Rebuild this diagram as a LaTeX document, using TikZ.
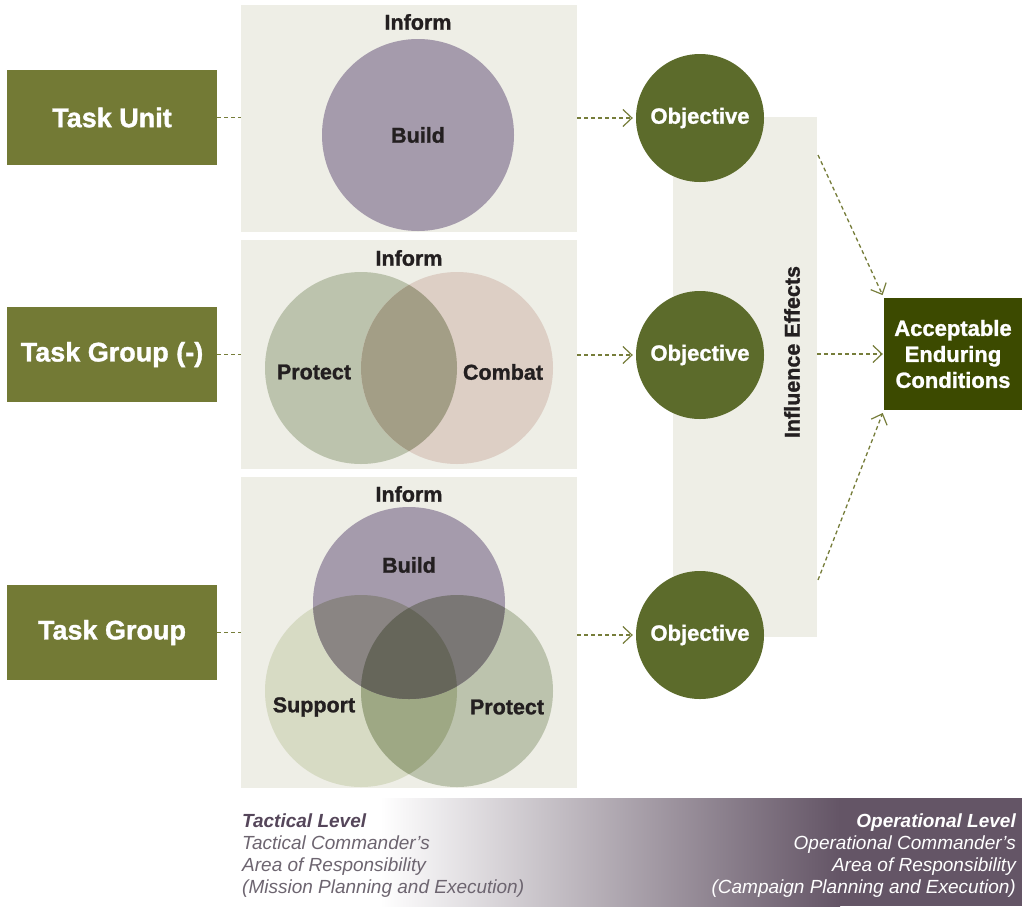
\documentclass[tikz,border=0pt]{standalone}
\usepackage{fontspec}
\setmainfont{Liberation Sans}
\newfontfamily\heavyfont[FakeBold=1.2]{Liberation Sans Bold}
\usetikzlibrary{arrows.meta}
\definecolor{taskolive}{HTML}{737A35}
\definecolor{panelbg}{HTML}{EEEEE6}
\definecolor{objgreen}{HTML}{5C6B2B}
\definecolor{aecgreen}{HTML}{3C4A00}
\definecolor{arrowolive}{HTML}{767D3A}
\definecolor{cpurple}{HTML}{A59BAC}
\definecolor{cgreen}{HTML}{BCC3AD}
\definecolor{clight}{HTML}{D7DBC4}
\definecolor{cpink}{HTML}{DDCFC5}
\definecolor{ovPG}{HTML}{A39E86}
\definecolor{ovPuL}{HTML}{8A8583}
\definecolor{ovPuG}{HTML}{7A7775}
\definecolor{ovLG}{HTML}{9EA884}
\definecolor{ovAll}{HTML}{66665A}
\definecolor{barend}{HTML}{645566}
\definecolor{labeldark}{HTML}{231F20}
\definecolor{tacticaltitle}{HTML}{55465A}
\definecolor{tacticaltext}{HTML}{6D6570}
\begin{document}
\begin{tikzpicture}[x=1pt,y=-1pt,
  taskbox/.style={fill=taskolive, text=white, minimum width=210pt, minimum height=95pt, inner sep=0pt, font=\fontsize{27}{30}\heavyfont},
  panel/.style={fill=panelbg, draw=none, inner sep=0pt, anchor=north west, minimum width=336pt},
  objective/.style={circle, fill=objgreen, minimum size=128pt, inner sep=0pt, text=white, font=\fontsize{22}{24}\heavyfont},
  vlabel/.style={text=labeldark, font=\fontsize{21.5}{24}\heavyfont, inner sep=0pt},
  flow/.style={arrowolive, line width=1.3pt, dash pattern=on 4pt off 3pt},
  flowarrow/.style={flow, -{Straight Barb[length=9pt,width=17pt,line width=1.2pt]}},
  leveltext/.style={inner sep=0pt, font=\fontsize{19}{21.7}\selectfont\itshape}
]
\useasboundingbox (0,0) rectangle (1022,906);

% influence band
\node[fill=panelbg, minimum width=144pt, minimum height=520pt, inner sep=0pt] (ie) at (745,377) {};
\node[rotate=90, text=labeldark, font=\fontsize{21.5}{24}\heavyfont, inner sep=0pt] (ietext) at (792,352) {Influence Effects};

% task boxes
\node[taskbox] (tu) at (112,117.5) {Task Unit};
\node[taskbox] (tgm) at (112,354.5) {Task Group (-)};
\node[taskbox] (tg) at (112,632.5) {Task Group};

% panels
\node[panel, minimum height=227pt] (p1) at (241,5) {};
\node[panel, minimum height=229pt] (p2) at (241,240) {};
\node[panel, minimum height=311pt] (p3) at (241,477) {};

% panel 1 circles
\fill[cpurple] (418,135) circle[radius=96pt];

% panel 2 circles
\fill[cgreen] (361,368) circle[radius=96pt];
\fill[cpink] (457,368) circle[radius=96pt];
\begin{scope}
  \clip (361,368) circle[radius=96pt];
  \fill[ovPG] (457,368) circle[radius=96pt];
\end{scope}

% panel 3 circles
\fill[clight] (361,691) circle[radius=96pt];
\fill[cgreen] (457,691) circle[radius=96pt];
\fill[cpurple] (409,603) circle[radius=96pt];
\begin{scope}
  \clip (361,691) circle[radius=96pt];
  \fill[ovLG] (457,691) circle[radius=96pt];
  \fill[ovPuL] (409,603) circle[radius=96pt];
\end{scope}
\begin{scope}
  \clip (457,691) circle[radius=96pt];
  \fill[ovPuG] (409,603) circle[radius=96pt];
\end{scope}
\begin{scope}
  \clip (361,691) circle[radius=96pt];
  \clip (457,691) circle[radius=96pt];
  \fill[ovAll] (409,603) circle[radius=96pt];
\end{scope}

% labels
\node[vlabel] (inf1) at (418,22) {Inform};
\node[vlabel] (bld1) at (418,135) {Build};
\node[vlabel] (inf2) at (409,258) {Inform};
\node[vlabel] (pro2) at (314,372) {Protect};
\node[vlabel] (com2) at (503,372) {Combat};
\node[vlabel] (inf3) at (409,494) {Inform};
\node[vlabel] (bld3) at (409,565) {Build};
\node[vlabel] (sup3) at (314,707) {Support};
\node[vlabel] (pro3) at (507,707) {Protect};

% objectives
\node[objective] (o1) at (700,118) {Objective};
\node[objective] (o2) at (700,355) {Objective};
\node[objective] (o3) at (700,635) {Objective};

% AEC
\node[fill=aecgreen, minimum width=138pt, minimum height=112pt, inner sep=0pt, text=white, align=center,
      font=\fontsize{22}{26}\heavyfont] (aec) at (953,354) {Acceptable\\Enduring\\Conditions};

% connectors
\draw[flow] (tu.east) -- (tu.east -| p1.west);
\draw[flow] (tgm.east) -- (tgm.east -| p2.west);
\draw[flow] (tg.east) -- (tg.east -| p3.west);
\draw[flowarrow, shorten >=3pt] (o1.west -| p1.east) -- (o1.west);
\draw[flowarrow, shorten >=3pt] (o2.west -| p2.east) -- (o2.west);
\draw[flowarrow, shorten >=3pt] (o3.west -| p3.east) -- (o3.west);
\coordinate (ieA) at (818,155);
\coordinate (ieC) at (818,580);
\draw[flowarrow, shorten >=3pt] (ieA) -- (aec.north west);
\draw[flowarrow, shorten >=1pt] (ie.east |- aec.west) -- (aec.west);
\draw[flowarrow, shorten >=3pt] (ieC) -- (aec.south west);

% bottom level bar
\fill[barend] (839,798) rectangle (1022,906);
\shade[left color=white, right color=barend] (380,798) rectangle (840,906);
\node[leveltext, anchor=north west, align=left, text=tacticaltext] (tact) at (242,814)
  {{\bfseries\color{tacticaltitle}Tactical Level}\\Tactical Commander’s\\Area of Responsibility\\(Mission Planning and Execution)};
\node[leveltext, anchor=north east, align=right, text=white] (oper) at (1016,814)
  {{\bfseries Operational Level}\\Operational Commander’s\\Area of Responsibility\\(Campaign Planning and Execution)};
\end{tikzpicture}
\end{document}
